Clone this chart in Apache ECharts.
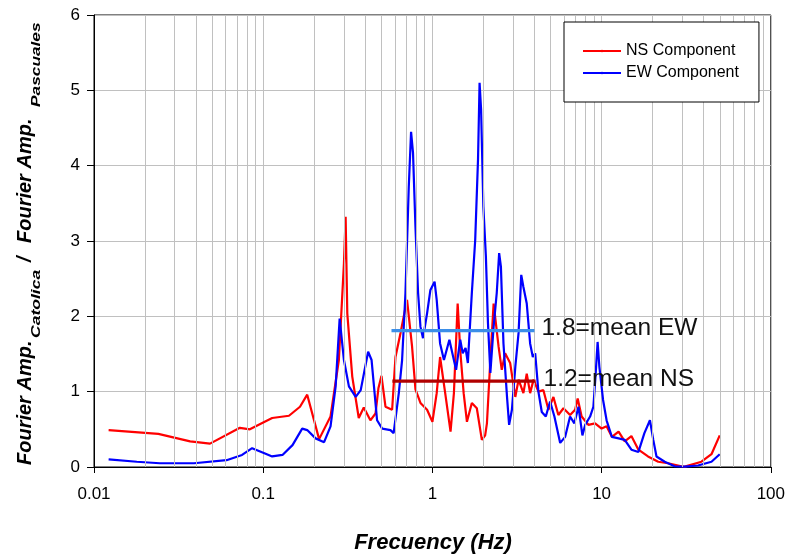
<!DOCTYPE html>
<html><head><meta charset="utf-8">
<script src="https://cdn.jsdelivr.net/npm/echarts@6/dist/echarts.min.js"></script>
<style>html,body{margin:0;padding:0;background:#fff}#c{width:788px;height:554px}</style>
</head><body><div id="c"></div>
<script>
// ---- data ----
const NS_FREQ = [0.0122,0.024,0.037,0.0485,0.0728,0.0834,0.1,0.113,0.142,0.165,0.182,0.214,0.25,0.28,0.30,0.307,0.314,0.336,0.367,0.393,0.43,0.461,0.48,0.5,0.528,0.54,0.578,0.605,0.648,0.708,0.758,0.794,0.85,0.93,1.0,1.06,1.11,1.19,1.28,1.34,1.41,1.46,1.53,1.6,1.71,1.83,1.96,2.05,2.1,2.2,2.3,2.35,2.46,2.57,2.69,2.88,3.09,3.23,3.45,3.61,3.78,3.96,4.23,4.53,4.85,5.19,5.55,5.95,6.51,6.97,7.22,7.62,8.35,9.15,10,10.7,11.5,12.6,13.7,15.0,16.5,18.8,21.6,24.7,29.6,31,38.9,44.6,49.9];
const NS_AMP  = [0.49,0.44,0.34,0.31,0.52,0.50,0.59,0.65,0.68,0.80,0.96,0.37,0.67,1.42,2.7,3.32,2.04,1.2,0.65,0.79,0.62,0.71,1.05,1.21,0.8,0.78,0.76,1.46,1.78,2.22,1.6,1.03,0.85,0.76,0.6,0.98,1.46,0.98,0.47,0.98,2.17,1.55,0.98,0.6,0.85,0.78,0.36,0.42,0.58,1.42,2.17,2.15,1.6,1.29,1.51,1.38,0.93,1.16,0.98,1.24,0.98,1.16,1.0,1.02,0.76,0.93,0.69,0.78,0.69,0.76,0.91,0.67,0.56,0.58,0.51,0.54,0.40,0.47,0.34,0.41,0.23,0.14,0.07,0.05,0.01,0.005,0.07,0.17,0.42];
const EW_FREQ = [0.0122,0.0179,0.0245,0.039,0.0607,0.075,0.086,0.1,0.113,0.13,0.149,0.17,0.182,0.204,0.229,0.25,0.268,0.283,0.30,0.321,0.352,0.377,0.417,0.437,0.471,0.505,0.565,0.59,0.633,0.662,0.693,0.725,0.748,0.768,0.794,0.823,0.85,0.88,0.93,0.973,1.03,1.06,1.11,1.17,1.26,1.30,1.38,1.46,1.51,1.57,1.62,1.71,1.79,1.86,1.90,1.94,2.0,2.07,2.13,2.2,2.3,2.4,2.48,2.54,2.63,2.76,2.84,2.95,3.09,3.23,3.35,3.45,3.61,3.78,3.92,4.05,4.23,4.43,4.68,4.96,5.26,5.69,6.09,6.51,6.9,7.3,7.7,8.0,8.55,8.94,9.2,9.47,9.7,10.2,10.7,11.5,12.6,13.7,15.0,16.5,17.9,19.3,20.2,21.1,23.6,27,31,37.1,44.6,49.9];
const EW_AMP  = [0.10,0.07,0.05,0.05,0.09,0.16,0.25,0.19,0.14,0.16,0.29,0.51,0.49,0.38,0.33,0.54,1.07,1.97,1.42,1.07,0.93,1.02,1.53,1.42,0.62,0.51,0.49,0.45,0.98,1.42,2.31,3.72,4.45,4.17,3.19,2.31,1.86,1.71,2.04,2.35,2.46,2.22,1.64,1.42,1.69,1.55,1.29,1.69,1.51,1.58,1.38,2.31,3.01,4.08,5.10,4.74,3.46,2.8,1.91,1.25,1.86,2.31,2.84,2.66,1.64,0.93,0.56,0.76,1.33,1.78,2.55,2.39,2.17,1.64,1.46,1.51,1.0,0.73,0.67,0.87,0.67,0.32,0.40,0.67,0.58,0.80,0.42,0.56,0.67,0.80,1.2,1.66,1.33,0.89,0.62,0.40,0.38,0.36,0.23,0.2,0.45,0.62,0.36,0.14,0.07,0.01,0.005,0.02,0.07,0.17];
const MEAN_EW_FREQ = [0.573, 4.01];
const MEAN_EW_VAL = 1.81;
const MEAN_NS_FREQ = [0.58, 4.07];
const MEAN_NS_VAL = 1.14;
const MINOR_FREQ = [0.02,0.03,0.04,0.05,0.06,0.07,0.08,0.09,0.2,0.3,0.4,0.5,0.6,0.7,0.8,0.9,2,3,4,5,6,7,8,9,20,30,40,50,60,70,80,90];
const X_LABELS = {0.01:'0.01',0.1:'0.1',1:'1',10:'10',100:'100'};

const FONT = 'Arial, "Liberation Sans", sans-serif';
const GRID_COLOR = '#c0c0c0';
const zip = (a, b) => a.map((v, i) => [v, b[i]]);

const chart = echarts.init(document.getElementById('c'), null, {renderer: 'canvas'});
chart.setOption({
  animation: false,
  backgroundColor: '#fff',
  grid: {left: 94, right: 15, top: 15, bottom: 87, show: true, borderColor: '#000', borderWidth: 1, backgroundColor: 'transparent'},
  legend: {
    data: ['NS Component', 'EW Component'], orient: 'vertical', left: 564, top: 22,
    zlevel: 1, z: 100,
    padding: [21, 20, 21, 18], itemGap: 6, itemWidth: 38, itemHeight: 3,
    backgroundColor: '#fff', borderColor: '#000', borderWidth: 1, borderRadius: 0,
    textStyle: {fontSize: 16, color: '#000', fontFamily: FONT}
  },
  xAxis: {
    type: 'log', logBase: 10, min: 0.01, max: 100,
    axisLine: {lineStyle: {color: '#000', width: 1}},
    axisTick: {show: true, length: 6, lineStyle: {color: '#000'}},
    axisLabel: {fontSize: 17, color: '#000', fontFamily: FONT, margin: 19,
      formatter: v => X_LABELS[+v.toPrecision(6)] || String(v)},
    splitLine: {show: true, lineStyle: {color: GRID_COLOR, width: 1}}
  },
  yAxis: {
    type: 'value', min: 0, max: 6, interval: 1,
    axisLine: {show: true, lineStyle: {color: '#000', width: 1}},
    axisTick: {show: true, length: 7, lineStyle: {color: '#000'}},
    axisLabel: {fontSize: 17, color: '#000', fontFamily: FONT, margin: 14},
    splitLine: {show: true, lineStyle: {color: GRID_COLOR, width: 1}}
  },
  series: [
    {
      name: 'minor-grid', type: 'line', data: [[1, -1]], symbol: 'none', silent: true, z: 1,
      lineStyle: {opacity: 0},
      markLine: {silent: true, symbol: 'none', label: {show: false},
        lineStyle: {color: GRID_COLOR, width: 1, type: 'solid'},
        data: MINOR_FREQ.map(f => ({xAxis: f}))}
    },
    {
      name: 'NS Component', type: 'line', data: zip(NS_FREQ, NS_AMP), symbol: 'none', z: 3,
      itemStyle: {color: '#ff0000'}, lineStyle: {color: '#ff0000', width: 2.2}
    },
    {
      name: 'EW Component', type: 'line', data: zip(EW_FREQ, EW_AMP), symbol: 'none', z: 4,
      itemStyle: {color: '#0000ff'}, lineStyle: {color: '#0000ff', width: 2.2}
    },
    {
      name: 'mean EW', type: 'line', data: MEAN_EW_FREQ.map(f => [f, MEAN_EW_VAL]), symbol: 'none', z: 5,
      itemStyle: {color: '#3b8ee8'}, lineStyle: {color: '#3b8ee8', width: 3.2},
      endLabel: {show: true, formatter: '1.8=mean EW', fontSize: 24.5, color: '#111', fontFamily: FONT, distance: 7, offset: [0, -2]}
    },
    {
      name: 'mean NS', type: 'line', data: MEAN_NS_FREQ.map(f => [f, MEAN_NS_VAL]), symbol: 'none', z: 5,
      itemStyle: {color: '#b00000'}, lineStyle: {color: '#b00000', width: 3.2},
      endLabel: {show: true, formatter: '1.2=mean NS', fontSize: 24.5, color: '#111', fontFamily: FONT, distance: 8, offset: [0, -2]}
    }
  ],
  graphic: [
    {type: 'text', x: 433, y: 543, style: {text: 'Frecuency (Hz)', fontSize: 22, fontWeight: 'bold', fontStyle: 'italic', fontFamily: FONT, fill: '#000', align: 'center', verticalAlign: 'middle'}},
    {type: 'group', x: 32, y: 465, rotation: Math.PI / 2, children: [
      {type: 'text', x: 0, y: -7, style: {text: 'Fourier Amp.', fontSize: 20, fontWeight: 'bold', fontStyle: 'italic', fontFamily: FONT, fill: '#000', align: 'left', verticalAlign: 'middle'}},
      {type: 'text', x: 127, y: 4, scaleX: 1.35, style: {text: 'Catolica', fontSize: 13, fontWeight: 'bold', fontStyle: 'italic', fontFamily: FONT, fill: '#000', align: 'left', verticalAlign: 'middle'}},
      {type: 'text', x: 203, y: -7, style: {text: '/', fontSize: 20, fontWeight: 'bold', fontStyle: 'italic', fontFamily: FONT, fill: '#000', align: 'left', verticalAlign: 'middle'}},
      {type: 'text', x: 222, y: -7, style: {text: 'Fourier Amp.', fontSize: 20, fontWeight: 'bold', fontStyle: 'italic', fontFamily: FONT, fill: '#000', align: 'left', verticalAlign: 'middle'}},
      {type: 'text', x: 358, y: 4, scaleX: 1.33, style: {text: 'Pascuales', fontSize: 13, fontWeight: 'bold', fontStyle: 'italic', fontFamily: FONT, fill: '#000', align: 'left', verticalAlign: 'middle'}}
    ]}
  ]
});
</script></body></html>
